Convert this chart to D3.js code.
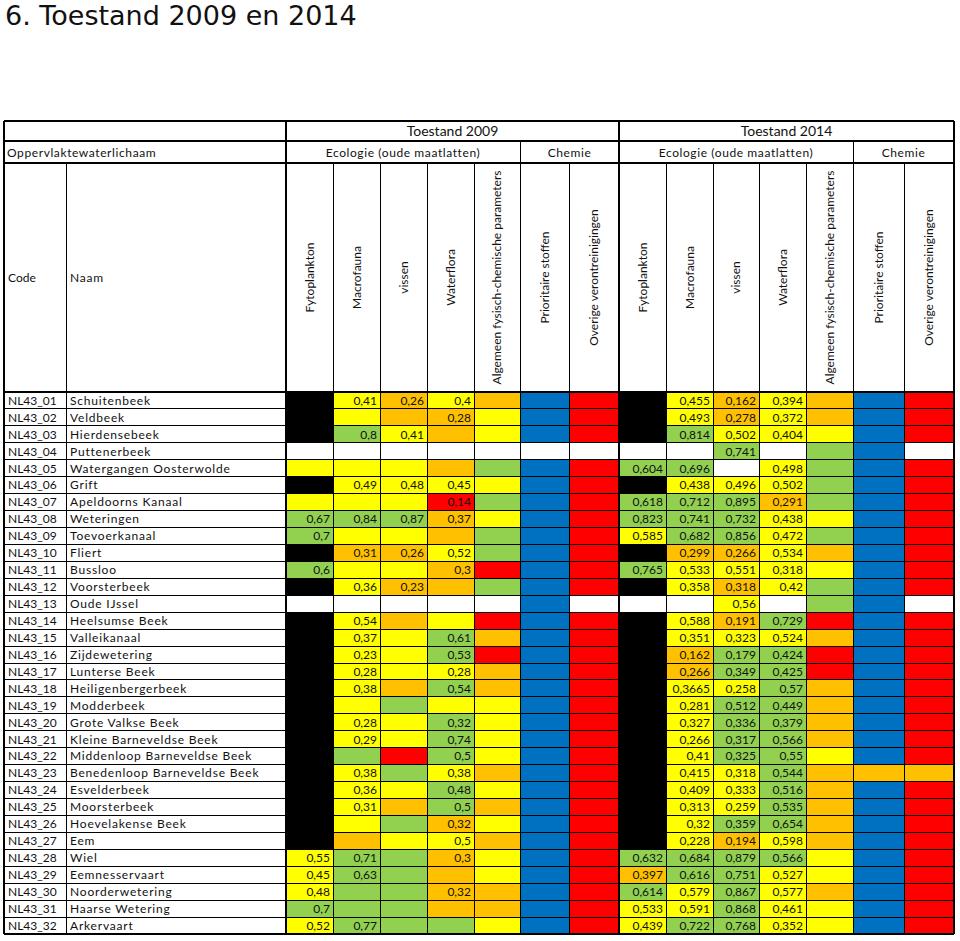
<!DOCTYPE html>
<html><head><meta charset="utf-8">
<script src="https://cdn.jsdelivr.net/npm/d3@7"></script>
<style>body{margin:0;background:#fff}svg{display:block}</style>
</head><body>
<svg id="chart" width="960" height="941"></svg>
<script>
const codes = ["NL43_01","NL43_02","NL43_03","NL43_04","NL43_05","NL43_06","NL43_07","NL43_08","NL43_09","NL43_10","NL43_11","NL43_12","NL43_13","NL43_14","NL43_15","NL43_16","NL43_17","NL43_18","NL43_19","NL43_20","NL43_21","NL43_22","NL43_23","NL43_24","NL43_25","NL43_26","NL43_27","NL43_28","NL43_29","NL43_30","NL43_31","NL43_32"];
const names = ["Schuitenbeek","Veldbeek","Hierdensebeek","Puttenerbeek","Watergangen Oosterwolde","Grift","Apeldoorns Kanaal","Weteringen","Toevoerkanaal","Fliert","Bussloo","Voorsterbeek","Oude IJssel","Heelsumse Beek","Valleikanaal","Zijdewetering","Lunterse Beek","Heiligenbergerbeek","Modderbeek","Grote Valkse Beek","Kleine Barneveldse Beek","Middenloop Barneveldse Beek","Benedenloop Barneveldse Beek","Esvelderbeek","Moorsterbeek","Hoevelakense Beek","Eem","Wiel","Eemnesservaart","Noorderwetering","Haarse Wetering","Arkervaart"];
const parameters = ["Fytoplankton","Macrofauna","vissen","Waterflora","Algemeen fysisch-chemische parameters","Prioritaire stoffen","Overige verontreinigingen"];
const years = ["Toestand 2009","Toestand 2014"];
const groups = ["Ecologie (oude maatlatten)","Chemie"];
// status per row, one letter per parameter: k=black, y=yellow, o=orange, g=green, r=red, b=blue, w=white
const status2009 = ["kyoyobr","kyooybr","kgyoybr","wwwwwww","yyyogbr","kyyyybr","yyyrgbr","gggoybr","gyyogbr","kooygbr","gyyorbr","kyoogbr","wwwwwbw","kyoyrbr","kyygobr","kyygrbr","kyyyobr","kyogobr","kygyybr","kyygybr","kyygybr","kgrgybr","kygyobr","kyygybr","kyogobr","kygoybr","koyyobr","yggoybr","yggoybr","yggoobr","gggoobr","ygggybr"];
const status2014 = ["kyoyobr","kyoyobr","kgyyybr","wwgwgbw","ggwygbr","kyyygbr","gggogbr","gggyybr","yggygbr","kooyobr","gyyyybr","kyoygbr","wwywgbw","kyogrbr","kyyyobr","koggrbr","koggrbr","kyygobr","kyggobr","kyggobr","kyggobr","kyggybr","kyygooo","kyygobr","kyygobr","kyggobr","kyoyobr","ggggybr","oggyybr","gygyobr","yygyybr","yggyybr"];
// EKR values for Fytoplankton, Macrofauna, vissen, Waterflora
const values2009 = [[null,0.41,0.26,0.4],[null,null,null,0.28],[null,0.8,0.41,null],[null,null,null,null],[null,null,null,null],[null,0.49,0.48,0.45],[null,null,null,0.14],[0.67,0.84,0.87,0.37],[0.7,null,null,null],[null,0.31,0.26,0.52],[0.6,null,null,0.3],[null,0.36,0.23,null],[null,null,null,null],[null,0.54,null,null],[null,0.37,null,0.61],[null,0.23,null,0.53],[null,0.28,null,0.28],[null,0.38,null,0.54],[null,null,null,null],[null,0.28,null,0.32],[null,0.29,null,0.74],[null,null,null,0.5],[null,0.38,null,0.38],[null,0.36,null,0.48],[null,0.31,null,0.5],[null,null,null,0.32],[null,null,null,0.5],[0.55,0.71,null,0.3],[0.45,0.63,null,null],[0.48,null,null,0.32],[0.7,null,null,null],[0.52,0.77,null,null]];
const values2014 = [[null,0.455,0.162,0.394],[null,0.493,0.278,0.372],[null,0.814,0.502,0.404],[null,null,0.741,null],[0.604,0.696,null,0.498],[null,0.438,0.496,0.502],[0.618,0.712,0.895,0.291],[0.823,0.741,0.732,0.438],[0.585,0.682,0.856,0.472],[null,0.299,0.266,0.534],[0.765,0.533,0.551,0.318],[null,0.358,0.318,0.42],[null,null,0.56,null],[null,0.588,0.191,0.729],[null,0.351,0.323,0.524],[null,0.162,0.179,0.424],[null,0.266,0.349,0.425],[null,0.3665,0.258,0.57],[null,0.281,0.512,0.449],[null,0.327,0.336,0.379],[null,0.266,0.317,0.566],[null,0.41,0.325,0.55],[null,0.415,0.318,0.544],[null,0.409,0.333,0.516],[null,0.313,0.259,0.535],[null,0.32,0.359,0.654],[null,0.228,0.194,0.598],[0.632,0.684,0.879,0.566],[0.397,0.616,0.751,0.527],[0.614,0.579,0.867,0.577],[0.533,0.591,0.868,0.461],[0.439,0.722,0.768,0.352]];

const statusCodes = ["k","y","o","g","r","b","w"];
const statusColors = ["#000000","#FFFF00","#FFC000","#92D050","#FF0000","#0070C0","#FFFFFF"];

// ---------- layout ----------
const svg = d3.select("#chart");
const FONT = "Lato, 'Open Sans', sans-serif";
const L = 4, R = 954, xName = 66, xData = 286, xMid = 619;
const yTop = 121, yRow2 = 141, yRow3 = 163, yBody = 392, yBottom = 934;
const widths2009 = [47,47,47,47,46,49,50];
const widths2014 = [47,47,46,47,47,51,50];

const color = d3.scaleOrdinal().domain(statusCodes).range(statusColors);
const y = d3.scaleBand().domain(codes).range([yBody, yBottom]);

function colScale(widths, x0, x1){
  const cum = [0, ...d3.cumsum(widths)];
  const s = d3.scaleLinear().domain([0, cum[cum.length-1]]).range([x0, x1]);
  return cum.map(c => s(c));
}
const edges = [colScale(widths2009, xData, xMid), colScale(widths2014, xMid, R)];

svg.append("text").attr("x", 5).attr("y", 25)
  .attr("font-family", "'DejaVu Sans', Verdana, sans-serif").attr("font-size", 27)
  .attr("fill", "#111").text("6. Toestand 2009 en 2014");

const fmt = v => String(v).replace(".", ",");
const statusSets = [status2009, status2014];
const valueSets = [values2009, values2014];

const cells = [];
codes.forEach((c, i) => {
  [0,1].forEach(yr => {
    parameters.forEach((p, j) => {
      const v = j < 4 ? valueSets[yr][i][j] : null;
      cells.push({code: c, yr, j, s: statusSets[yr][i][j], v});
    });
  });
});

const gCells = svg.append("g");
gCells.selectAll("rect").data(cells).join("rect")
  .attr("x", d => edges[d.yr][d.j])
  .attr("y", d => y(d.code))
  .attr("width", d => edges[d.yr][d.j+1] - edges[d.yr][d.j])
  .attr("height", y.bandwidth())
  .attr("fill", d => color(d.s))
  .attr("shape-rendering", "crispEdges");

gCells.selectAll("text").data(cells.filter(d => d.v != null)).join("text")
  .attr("x", d => edges[d.yr][d.j+1] - 3)
  .attr("y", d => y(d.code) + y.bandwidth()/2 + 4.3)
  .attr("text-anchor", "end")
  .attr("font-family", FONT).attr("font-size", 12)
  .attr("fill", "#111")
  .text(d => fmt(d.v));

// left labels
const gLeft = svg.append("g").attr("font-family", FONT).attr("font-size", 12).attr("fill", "#111");
gLeft.selectAll("text.code").data(codes).join("text").attr("class","code")
  .attr("x", L + 4).attr("y", d => y(d) + y.bandwidth()/2 + 4.3).text(d => d);
gLeft.selectAll("text.name").data(names).join("text").attr("class","name")
  .attr("x", xName + 4).attr("y", (d,i) => y(codes[i]) + y.bandwidth()/2 + 4.3)
  .attr("letter-spacing", 0.8).text(d => d);

// headers
const gHead = svg.append("g").attr("font-family", FONT).attr("fill", "#111");
years.forEach((t, yr) => {
  const e = edges[yr];
  gHead.append("text").attr("x", (e[0] + e[7]) / 2).attr("y", (yTop + yRow2)/2 + 5)
    .attr("text-anchor", "middle").attr("font-size", 14).text(t);
  gHead.append("text").attr("x", (e[0] + e[5]) / 2).attr("y", (yRow2 + yRow3)/2 + 4.5)
    .attr("text-anchor", "middle").attr("font-size", 12).attr("letter-spacing", 0.6).text(groups[0]);
  gHead.append("text").attr("x", (e[5] + e[7]) / 2).attr("y", (yRow2 + yRow3)/2 + 4.5)
    .attr("text-anchor", "middle").attr("font-size", 12).attr("letter-spacing", 0.6).text(groups[1]);
  parameters.forEach((p, j) => {
    gHead.append("text")
      .attr("transform", `translate(${(e[j] + e[j+1]) / 2 + 4},${(yRow3 + yBody)/2}) rotate(-90)`)
      .attr("text-anchor", "middle").attr("font-size", 12).text(p);
  });
});
gHead.append("text").attr("x", L + 3).attr("y", (yRow2 + yRow3)/2 + 4.5)
  .attr("font-size", 12).attr("letter-spacing", 0.6).text("Oppervlaktewaterlichaam");
gHead.append("text").attr("x", L + 4).attr("y", (yRow3 + yBody)/2 + 4.5).attr("font-size", 12).text("Code");
gHead.append("text").attr("x", xName + 4).attr("y", (yRow3 + yBody)/2 + 4.5).attr("font-size", 12).attr("letter-spacing", 0.8).text("Naam");

// grid lines
const gGrid = svg.append("g").attr("stroke", "#000").attr("shape-rendering", "crispEdges");
function hline(y0, x0, x1, w){ gGrid.append("line").attr("x1", x0).attr("x2", x1).attr("y1", y0).attr("y2", y0).attr("stroke-width", w); }
function vline(x0, y0, y1, w){ gGrid.append("line").attr("x1", x0).attr("x2", x0).attr("y1", y0).attr("y2", y1).attr("stroke-width", w); }
codes.forEach(c => hline(y(c), L, R, 1));
hline(yTop, L, R, 2); hline(yRow2, L, R, 1.5); hline(yRow3, L, R, 1.5); hline(yBody, L, R, 2); hline(yBottom, L, R, 2);
vline(L, yTop, yBottom, 2); vline(R, yTop, yBottom, 2);
vline(xName, yRow3, yBottom, 1);
vline(xData, yTop, yBottom, 2);
edges.forEach((e, yr) => {
  e.forEach((x, k) => {
    if (k === 0 || k === 7) return;
    const top = k === 5 ? yRow2 : yRow3;
    vline(x, top, yBottom, 1);
  });
});
vline(xMid, yTop, yBottom, 2);
</script>
</body></html>
